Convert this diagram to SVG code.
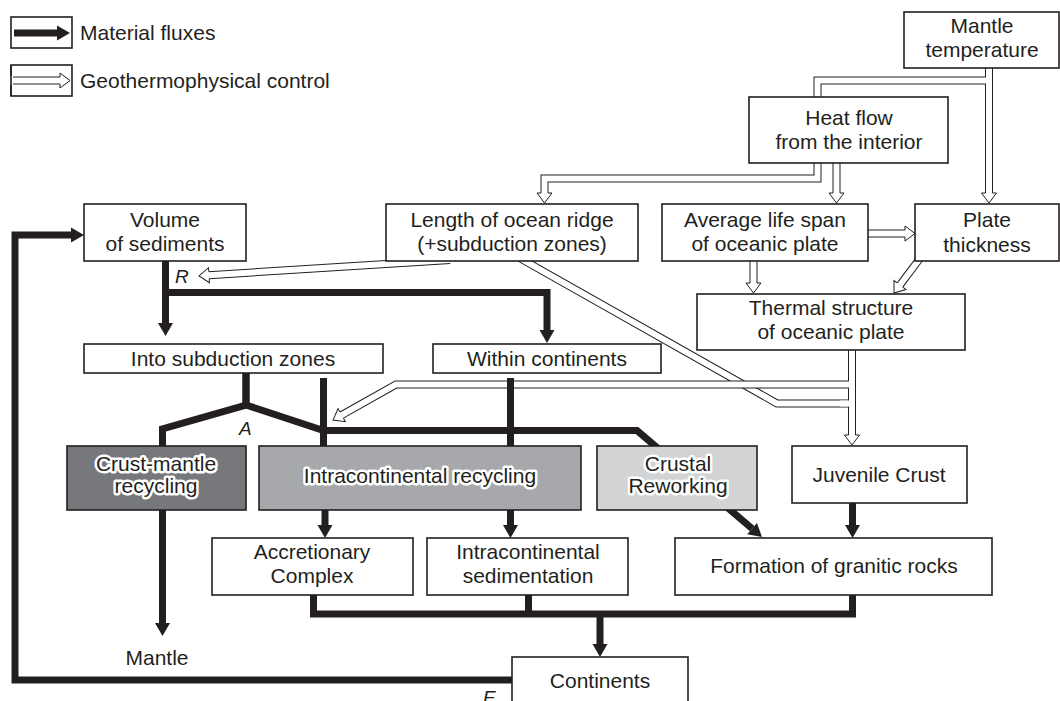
<svg xmlns="http://www.w3.org/2000/svg" width="1060" height="701" viewBox="0 0 1060 701">
<defs>
<style>
.box{fill:#fff;stroke:#231f20;stroke-width:1.6}
.g1{fill:#77787b;stroke:#231f20;stroke-width:1.6}
.g2{fill:#a7a8ab;stroke:#231f20;stroke-width:1.6}
.g3{fill:#d2d3d5;stroke:#231f20;stroke-width:1.6}
text{font-family:"Liberation Sans",Arial,Helvetica,sans-serif;font-size:21px;fill:#231f20;text-anchor:middle}
.lab{font-style:italic;font-size:19px;text-anchor:start}
.lt{text-anchor:start}
.halo{paint-order:stroke;stroke:#fff;stroke-width:5px;stroke-linejoin:round}
.mf{fill:none;stroke:#231f20;stroke-width:7;stroke-linejoin:miter;stroke-miterlimit:10}
.hb{fill:none;stroke:#231f20;stroke-width:8;stroke-linejoin:miter;stroke-miterlimit:10}
.hw{fill:none;stroke:#fff;stroke-width:6;stroke-linejoin:miter;stroke-miterlimit:10}
</style>
<marker id="ms" markerUnits="userSpaceOnUse" orient="auto" refX="0" refY="0" markerWidth="14" markerHeight="16" style="overflow:visible"><path d="M0,-7.5 L13,0 L0,7.5 Z" fill="#231f20"/></marker>
<marker id="mh" markerUnits="userSpaceOnUse" orient="auto" refX="0" refY="0" markerWidth="11" markerHeight="16" style="overflow:visible"><path d="M0,-7.5 L10,0 L0,7.5 Z" fill="#fff"/><path d="M0,-3.5 L0,-7.5 L10,0 L0,7.5 L0,3.5" fill="none" stroke="#231f20" stroke-width="1"/></marker>
</defs>
<rect width="1060" height="701" fill="#fff"/>

<g id="legend">
<rect class="box" x="11" y="17" width="61" height="31"/>
<path class="mf" d="M14,33 H57" marker-end="url(#ms)"/>
<text class="lt" x="80" y="40">Material fluxes</text>
<rect class="box" x="11" y="65" width="61" height="31"/>
<path class="hb" d="M13,80.5 H60"/>
<path class="hw" d="M13,80.5 H60" marker-end="url(#mh)"/>
<rect x="10" y="76" width="3" height="9" fill="#fff"/>
<line x1="11" y1="65" x2="11" y2="96" stroke="#231f20" stroke-width="1.6"/>
<text class="lt" x="80" y="88">Geothermophysical control</text>
</g>

<g id="connectors">
<g id="geothermophysical-outline">
<path class="hb" d="M989,68 V193"/>
<path class="hb" d="M989,80.5 H817.5 V97"/>
<path class="hb" d="M817.5,163 V178.5 H544.5 V193"/>
<path class="hb" d="M836.5,163 V193"/>
<path class="hb" d="M868,233.5 H905"/>
<path class="hb" d="M753.5,261 V283"/>
<path class="hb" d="M921.6,256.2 L900,285"/>
<path class="hb" d="M450,260 L209,275.2"/>
<path class="hb" d="M516.3,256.1 L777,403.5 H852"/>
</g>
<g id="geothermophysical-fill">
<path class="hw" d="M989,68 V193" marker-end="url(#mh)"/>
<path class="hw" d="M989,80.5 H817.5 V97"/>
<path class="hw" d="M817.5,163 V178.5 H544.5 V193" marker-end="url(#mh)"/>
<path class="hw" d="M836.5,163 V193" marker-end="url(#mh)"/>
<path class="hw" d="M868,233.5 H905" marker-end="url(#mh)"/>
<path class="hw" d="M753.5,261 V283" marker-end="url(#mh)"/>
<path class="hw" d="M921.6,256.2 L900,285" marker-end="url(#mh)"/>
<path class="hw" d="M450,260 L209,275.2" marker-end="url(#mh)"/>
<path class="hw" d="M516.3,256.1 L777,403.5 H852"/>
</g>
<g id="thermal-control">
<path class="hb" d="M852,350 V435"/>
<path class="hb" d="M852,384.5 H396 L341.7,415.1"/>
<path class="hw" d="M852,350 V435" marker-end="url(#mh)"/>
<path class="hw" d="M852,384.5 H396 L341.7,415.1" marker-end="url(#mh)"/>
<path class="hw" d="M840,403.5 H852"/>
</g>
<g id="material-fluxes">
<path class="mf" d="M512,680 H15 V235 H71" marker-end="url(#ms)"/>
<path class="mf" d="M165.5,261 V323" marker-end="url(#ms)"/>
<path class="mf" d="M165.5,292.5 H547 V330" marker-end="url(#ms)"/>
<path class="mf" d="M246,373 V405 L162.5,429 V446"/>
<path class="mf" d="M246,373 V405 L323.5,430.5 H637 L752.1,528.6" marker-end="url(#ms)"/>
<path class="mf" d="M323.5,378 V446"/>
<path class="mf" d="M510.5,378 V446"/>
<path class="mf" d="M162.5,510 V623" marker-end="url(#ms)"/>
<path class="mf" d="M325,510 V525" marker-end="url(#ms)"/>
<path class="mf" d="M510.5,510 V525" marker-end="url(#ms)"/>
<path class="mf" d="M852.5,503 V525" marker-end="url(#ms)"/>
<path class="mf" d="M313.5,595 V614 H852.5 V595"/>
<path class="mf" d="M528.5,595 V614"/>
<path class="mf" d="M600,614 V644" marker-end="url(#ms)"/>
</g>
</g>

<g id="mantle-temperature"><rect class="box" x="904" y="12" width="155" height="56"/><text x="982" y="33">Mantle</text><text x="982" y="57">temperature</text></g>
<g id="heat-flow"><rect class="box" x="749" y="97" width="199" height="66"/><text x="849" y="125">Heat flow</text><text x="849" y="149">from the interior</text></g>
<g id="volume-of-sediments"><rect class="box" x="84" y="204" width="162" height="57"/><text x="165" y="227">Volume</text><text x="165" y="251">of sediments</text></g>
<g id="length-of-ocean-ridge"><rect class="box" x="386" y="204" width="252" height="57"/><text x="512" y="227">Length of ocean ridge</text><text x="512" y="251">(+subduction zones)</text></g>
<g id="average-life-span"><rect class="box" x="662" y="204" width="206" height="57"/><text x="765" y="227">Average life span</text><text x="765" y="251">of oceanic plate</text></g>
<g id="plate-thickness"><rect class="box" x="915" y="204" width="144" height="57"/><text x="987" y="227">Plate</text><text x="987" y="252">thickness</text></g>
<g id="thermal-structure"><rect class="box" x="697" y="294" width="268" height="56"/><text x="831" y="315">Thermal structure</text><text x="831" y="339">of oceanic plate</text></g>
<g id="into-subduction-zones"><rect class="box" x="84" y="344" width="299" height="29"/><text x="233" y="366">Into subduction zones</text></g>
<g id="within-continents"><rect class="box" x="433" y="344" width="228" height="29"/><text x="547" y="366">Within continents</text></g>
<g id="crust-mantle-recycling"><rect class="g1" x="67" y="446" width="179" height="64"/><text class="halo" x="156" y="471">Crust-mantle</text><text class="halo" x="156" y="493">recycling</text></g>
<g id="intracontinental-recycling"><rect class="g2" x="259" y="446" width="322" height="64"/><text class="halo" x="420" y="483">Intracontinental recycling</text></g>
<g id="crustal-reworking"><rect class="g3" x="597" y="446" width="160" height="64"/><text class="halo" x="678" y="471">Crustal</text><text class="halo" x="678" y="493">Reworking</text></g>
<g id="juvenile-crust"><rect class="box" x="792" y="446" width="175" height="57"/><text x="879" y="482">Juvenile Crust</text></g>
<g id="accretionary-complex"><rect class="box" x="212" y="538" width="201" height="57"/><text x="312" y="559">Accretionary</text><text x="312" y="583">Complex</text></g>
<g id="intracontinental-sedimentation"><rect class="box" x="427" y="538" width="201" height="57"/><text x="528" y="559">Intracontinental</text><text x="528" y="583">sedimentation</text></g>
<g id="formation-of-granitic-rocks"><rect class="box" x="675" y="538" width="317" height="57"/><text x="834" y="573">Formation of granitic rocks</text></g>
<g id="continents"><rect class="box" x="512" y="657" width="176" height="52"/><text x="600" y="688">Continents</text></g>
<g id="mantle"><text x="157" y="665">Mantle</text></g>

<g id="labels">
<text class="lab" x="175" y="283">R</text>
<text class="lab" x="239" y="435">A</text>
<text class="lab" x="483" y="704">E</text>
</g>
</svg>
